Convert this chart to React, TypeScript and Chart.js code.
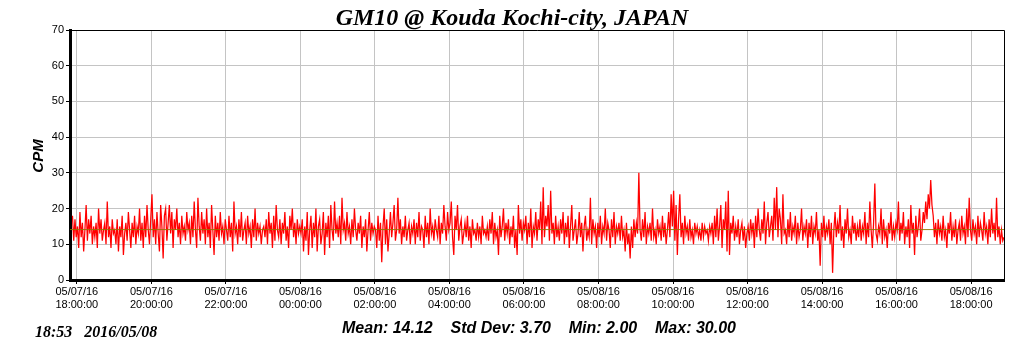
import React, { useEffect, useRef } from "react";
import { Chart, registerables } from "chart.js";

Chart.register(...registerables);

const titleText = "GM10 @ Kouda Kochi-city, JAPAN";
const yAxisLabel = "CPM";
const statsText = "Mean: 14.12    Std Dev: 3.70    Min: 2.00    Max: 30.00";
const stampText = "18:53   2016/05/08";
const meanValue = 14.12;

const xMinMinute = -11;
const xMaxMinute = 1493;
const firstSampleMinute = -7;
const sampleStepMinutes = 2;

const yMin = 0;
const yMax = 70;
const yStep = 10;

const xTickMinutes = [0, 120, 240, 360, 480, 600, 720, 840, 960, 1080, 1200, 1320, 1440];
const xTickDates = [
  "05/07/16", "05/07/16", "05/07/16", "05/08/16", "05/08/16", "05/08/16", "05/08/16",
  "05/08/16", "05/08/16", "05/08/16", "05/08/16", "05/08/16", "05/08/16",
];
const xTickTimes = [
  "18:00:00", "20:00:00", "22:00:00", "00:00:00", "02:00:00", "04:00:00", "06:00:00",
  "08:00:00", "10:00:00", "12:00:00", "14:00:00", "16:00:00", "18:00:00",
];

// CPM readings, one every 2 minutes from 17:53 (05/07) to 18:53 (05/08)
const cpm = [
  18, 11, 17, 12,
  // 18:00
  15, 9, 19, 12, 16, 8, 14, 21, 11, 17, 13, 18, 10, 15, 12, 16, 9, 20, 13, 17, 11, 14, 16, 10, 22, 12, 15, 9, 17, 13,
  // 19:00
  14, 10, 17, 8, 15, 12, 18, 7, 13, 16, 11, 19, 14, 9, 16, 12, 18, 10, 15, 13, 20, 11, 16, 9, 18, 12, 21, 14, 10, 17,
  // 20:00
  24, 12, 17, 10, 19, 13, 8, 21, 15, 6, 18, 20, 11, 16, 21, 13, 19, 9, 17, 14, 20, 12, 16, 10, 18, 13, 15, 11, 19, 14,
  // 21:00
  16, 10, 18, 12, 22, 14, 9, 23, 15, 11, 19, 13, 17, 10, 20, 12, 16, 9, 21, 14, 7, 18, 12, 16, 11, 19, 13, 15, 10, 17,
  // 22:00
  14, 11, 18, 12, 16, 8, 22, 13, 15, 10, 17, 12, 19, 11, 14, 16, 10, 18, 13, 15, 9, 17, 12, 20, 11, 16, 13, 15, 10, 14,
  // 23:00
  15, 12, 17, 10, 19, 13, 16, 9, 18, 11, 21, 14, 12, 17, 10, 16, 13, 19, 11, 15, 9, 18, 14, 20, 12, 16, 10, 17, 13, 15,
  // 00:00
  13, 17, 8, 15, 11, 19, 7, 14, 18, 9, 16, 12, 20, 8, 15, 17, 10, 13, 19, 7, 16, 12, 18, 9, 21, 14, 11, 22, 13, 16,
  // 01:00
  12, 18, 10, 23, 14, 16, 11, 19, 13, 15, 10, 17, 12, 20, 14, 11, 16, 13, 18, 9, 15, 12, 17, 8, 14, 19, 11, 16, 13, 15,
  // 02:00
  14, 9, 18, 11, 16, 5, 15, 20, 10, 17, 8, 13, 19, 12, 16, 21, 11, 14, 23, 13, 17, 10, 15, 12, 18, 11, 14, 16, 10, 15,
  // 03:00
  13, 17, 10, 16, 12, 19, 11, 15, 14, 9, 18, 12, 16, 10, 20, 13, 15, 11, 17, 14, 12, 18, 10, 16, 13, 21, 15, 11, 19, 14,
  // 04:00
  16, 22, 12, 7, 18, 14, 21, 11, 15, 17, 10, 13, 16, 12, 18, 11, 15, 9, 17, 13, 14, 11, 16, 12, 15, 10, 18, 13, 14, 12,
  // 05:00
  15, 11, 17, 13, 19, 10, 16, 12, 14, 7, 18, 12, 15, 20, 11, 16, 13, 17, 10, 15, 12, 18, 9, 14, 7, 21, 13, 17, 11, 16,
  // 06:00
  14, 18, 10, 16, 12, 20, 9, 15, 13, 19, 11, 17, 14, 22, 10, 26, 12, 18, 15, 21, 11, 25, 13, 16, 10, 18, 12, 15, 11, 17,
  // 07:00
  13, 19, 10, 16, 12, 18, 9, 15, 21, 11, 14, 17, 10, 13, 19, 12, 16, 8, 15, 18, 11, 14, 12, 23, 10, 17, 13, 15, 9, 16,
  // 08:00
  12, 18, 10, 15, 13, 20, 11, 16, 14, 9, 17, 12, 19, 10, 15, 13, 16, 11, 18, 12, 14, 8, 16, 10, 13, 6, 15, 9, 17, 12,
  // 09:00
  16, 13, 30, 14, 11, 17, 12, 19, 10, 15, 13, 16, 11, 20, 12, 14, 10, 17, 13, 15, 11, 18, 12, 16, 10, 14, 19, 12, 24, 15,
  // 10:00
  25, 11, 21, 7, 17, 24, 12, 16, 10, 18, 13, 15, 11, 17, 12, 14, 10, 16, 13, 15, 12, 14, 11, 16, 12, 15, 13, 14, 11, 15,
  // 11:00
  13, 16, 10, 18, 12, 20, 11, 15, 21, 9, 17, 14, 22, 8, 25, 7, 16, 13, 18, 11, 15, 12, 17, 10, 14, 16, 11, 15, 9, 13,
  // 12:00
  15, 11, 17, 13, 16, 9, 18, 12, 20, 14, 11, 17, 13, 22, 10, 16, 19, 12, 15, 18, 11, 23, 14, 26, 12, 20, 17, 10, 24, 13,
  // 13:00
  14, 10, 17, 12, 19, 11, 15, 13, 18, 10, 16, 12, 14, 20, 11, 15, 13, 17, 9, 16, 12, 18, 10, 15, 13, 19, 11, 14, 4, 16,
  // 14:00
  12, 18, 11, 15, 13, 17, 10, 16, 2, 14, 19, 12, 16, 13, 21, 11, 15, 9, 17, 13, 20, 12, 14, 10, 18, 13, 16, 11, 15, 12,
  // 15:00
  17, 11, 15, 13, 19, 10, 16, 12, 22, 14, 9, 16, 27, 13, 11, 15, 13, 20, 10, 17, 12, 14, 9, 16, 13, 19, 11, 15, 12, 16,
  // 16:00
  14, 22, 11, 16, 13, 19, 10, 15, 12, 17, 9, 21, 13, 16, 7, 18, 12, 15, 20, 11, 14, 19, 16, 22, 17, 24, 20, 28, 21, 18,
  // 17:00
  12, 16, 10, 17, 13, 15, 11, 18, 12, 14, 9, 16, 13, 19, 11, 15, 12, 17, 10, 14, 16, 11, 18, 13, 15, 10, 20, 12, 23, 14,
  // 18:00
  11, 17, 13, 15, 10, 18, 12, 16, 14, 11, 19, 13, 15, 10, 17, 12, 20, 13, 16, 11, 23, 12, 15, 10, 14, 11, 12,
];

export default function App() {
  const ref = useRef<HTMLCanvasElement>(null);

  useEffect(() => {
    const canvas = ref.current;
    if (!canvas) return;

    const points = cpm.map((v, i) => ({ x: firstSampleMinute + i * sampleStepMinutes, y: v }));
    const meanPoints = [
      { x: xMinMinute, y: meanValue },
      { x: xMaxMinute, y: meanValue },
    ];

    const textPlugin = {
      id: "chartTexts",
      afterDraw(chart: any) {
        const { ctx, chartArea: a } = chart;
        ctx.save();
        ctx.strokeStyle = "#000";
        ctx.lineWidth = 1;
        ctx.beginPath();
        ctx.moveTo(a.left, Math.round(a.top) + 0.5);
        ctx.lineTo(Math.round(a.right) + 0.5, Math.round(a.top) + 0.5);
        ctx.lineTo(Math.round(a.right) + 0.5, a.bottom);
        ctx.stroke();

        ctx.fillStyle = "#000";
        ctx.font = "italic bold 24px 'Liberation Serif', serif";
        ctx.textAlign = "center";
        ctx.textBaseline = "alphabetic";
        ctx.fillText(titleText, 512, 25);

        ctx.save();
        ctx.translate(43, 156);
        ctx.rotate(-Math.PI / 2);
        ctx.font = "italic bold 15px 'Liberation Sans', sans-serif";
        ctx.textAlign = "center";
        ctx.fillText(yAxisLabel, 0, 0);
        ctx.restore();

        ctx.font = "italic bold 16px 'Liberation Sans', sans-serif";
        ctx.textAlign = "center";
        ctx.fillText(statsText, 539, 333);

        ctx.font = "italic bold 16px 'Liberation Serif', serif";
        ctx.textAlign = "left";
        ctx.fillText(stampText, 35, 337);
        ctx.restore();
      },
    };

    const chart = new Chart(canvas, {
      type: "line",
      data: {
        datasets: [
          {
            label: "mean",
            data: meanPoints,
            borderColor: "rgba(150,115,0,0.9)",
            borderWidth: 1,
            pointRadius: 0,
          },
          {
            label: "CPM",
            data: points,
            borderColor: "#ff0000",
            borderWidth: 1.25,
            pointRadius: 0,
            tension: 0,
          },
        ],
      },
      options: {
        responsive: false,
        animation: false,
        parsing: false as any,
        layout: { padding: { top: 30, right: 20, left: 0, bottom: 0 } },
        plugins: {
          legend: { display: false },
          tooltip: { enabled: false },
          title: { display: false },
        },
        scales: {
          x: {
            type: "linear",
            min: xMinMinute,
            max: xMaxMinute,
            afterBuildTicks: (s: any) => {
              s.ticks = xTickMinutes.map((v) => ({ value: v }));
            },
            afterFit: (s: any) => {
              s.height = 71;
            },
            ticks: {
              autoSkip: false,
              maxRotation: 0,
              minRotation: 0,
              padding: 2,
              color: "#000",
              font: { family: "'Liberation Sans', Arial, sans-serif", size: 11, lineHeight: 1.15 },
              callback: (_v: any, i: number) => [xTickDates[i], xTickTimes[i]],
            },
            grid: { color: "#c4c4c4", lineWidth: 1, tickLength: 4, tickColor: "#000" },
            border: { color: "#000", width: 3 },
          },
          y: {
            type: "linear",
            min: yMin,
            max: yMax,
            afterFit: (s: any) => {
              s.width = 70;
            },
            ticks: {
              stepSize: yStep,
              padding: 2,
              color: "#000",
              font: { family: "'Liberation Sans', Arial, sans-serif", size: 11 },
            },
            grid: { color: "#c4c4c4", lineWidth: 1, tickLength: 4, tickColor: "#000" },
            border: { color: "#000", width: 3 },
          },
        },
      },
      plugins: [textPlugin],
    });

    return () => chart.destroy();
  }, []);

  return (
    <div style={{ position: "fixed", left: 0, top: 0, width: 1024, height: 351, background: "#fff" }}>
      <canvas ref={ref} width={1024} height={351} style={{ display: "block", width: 1024, height: 351 }} />
    </div>
  );
}
